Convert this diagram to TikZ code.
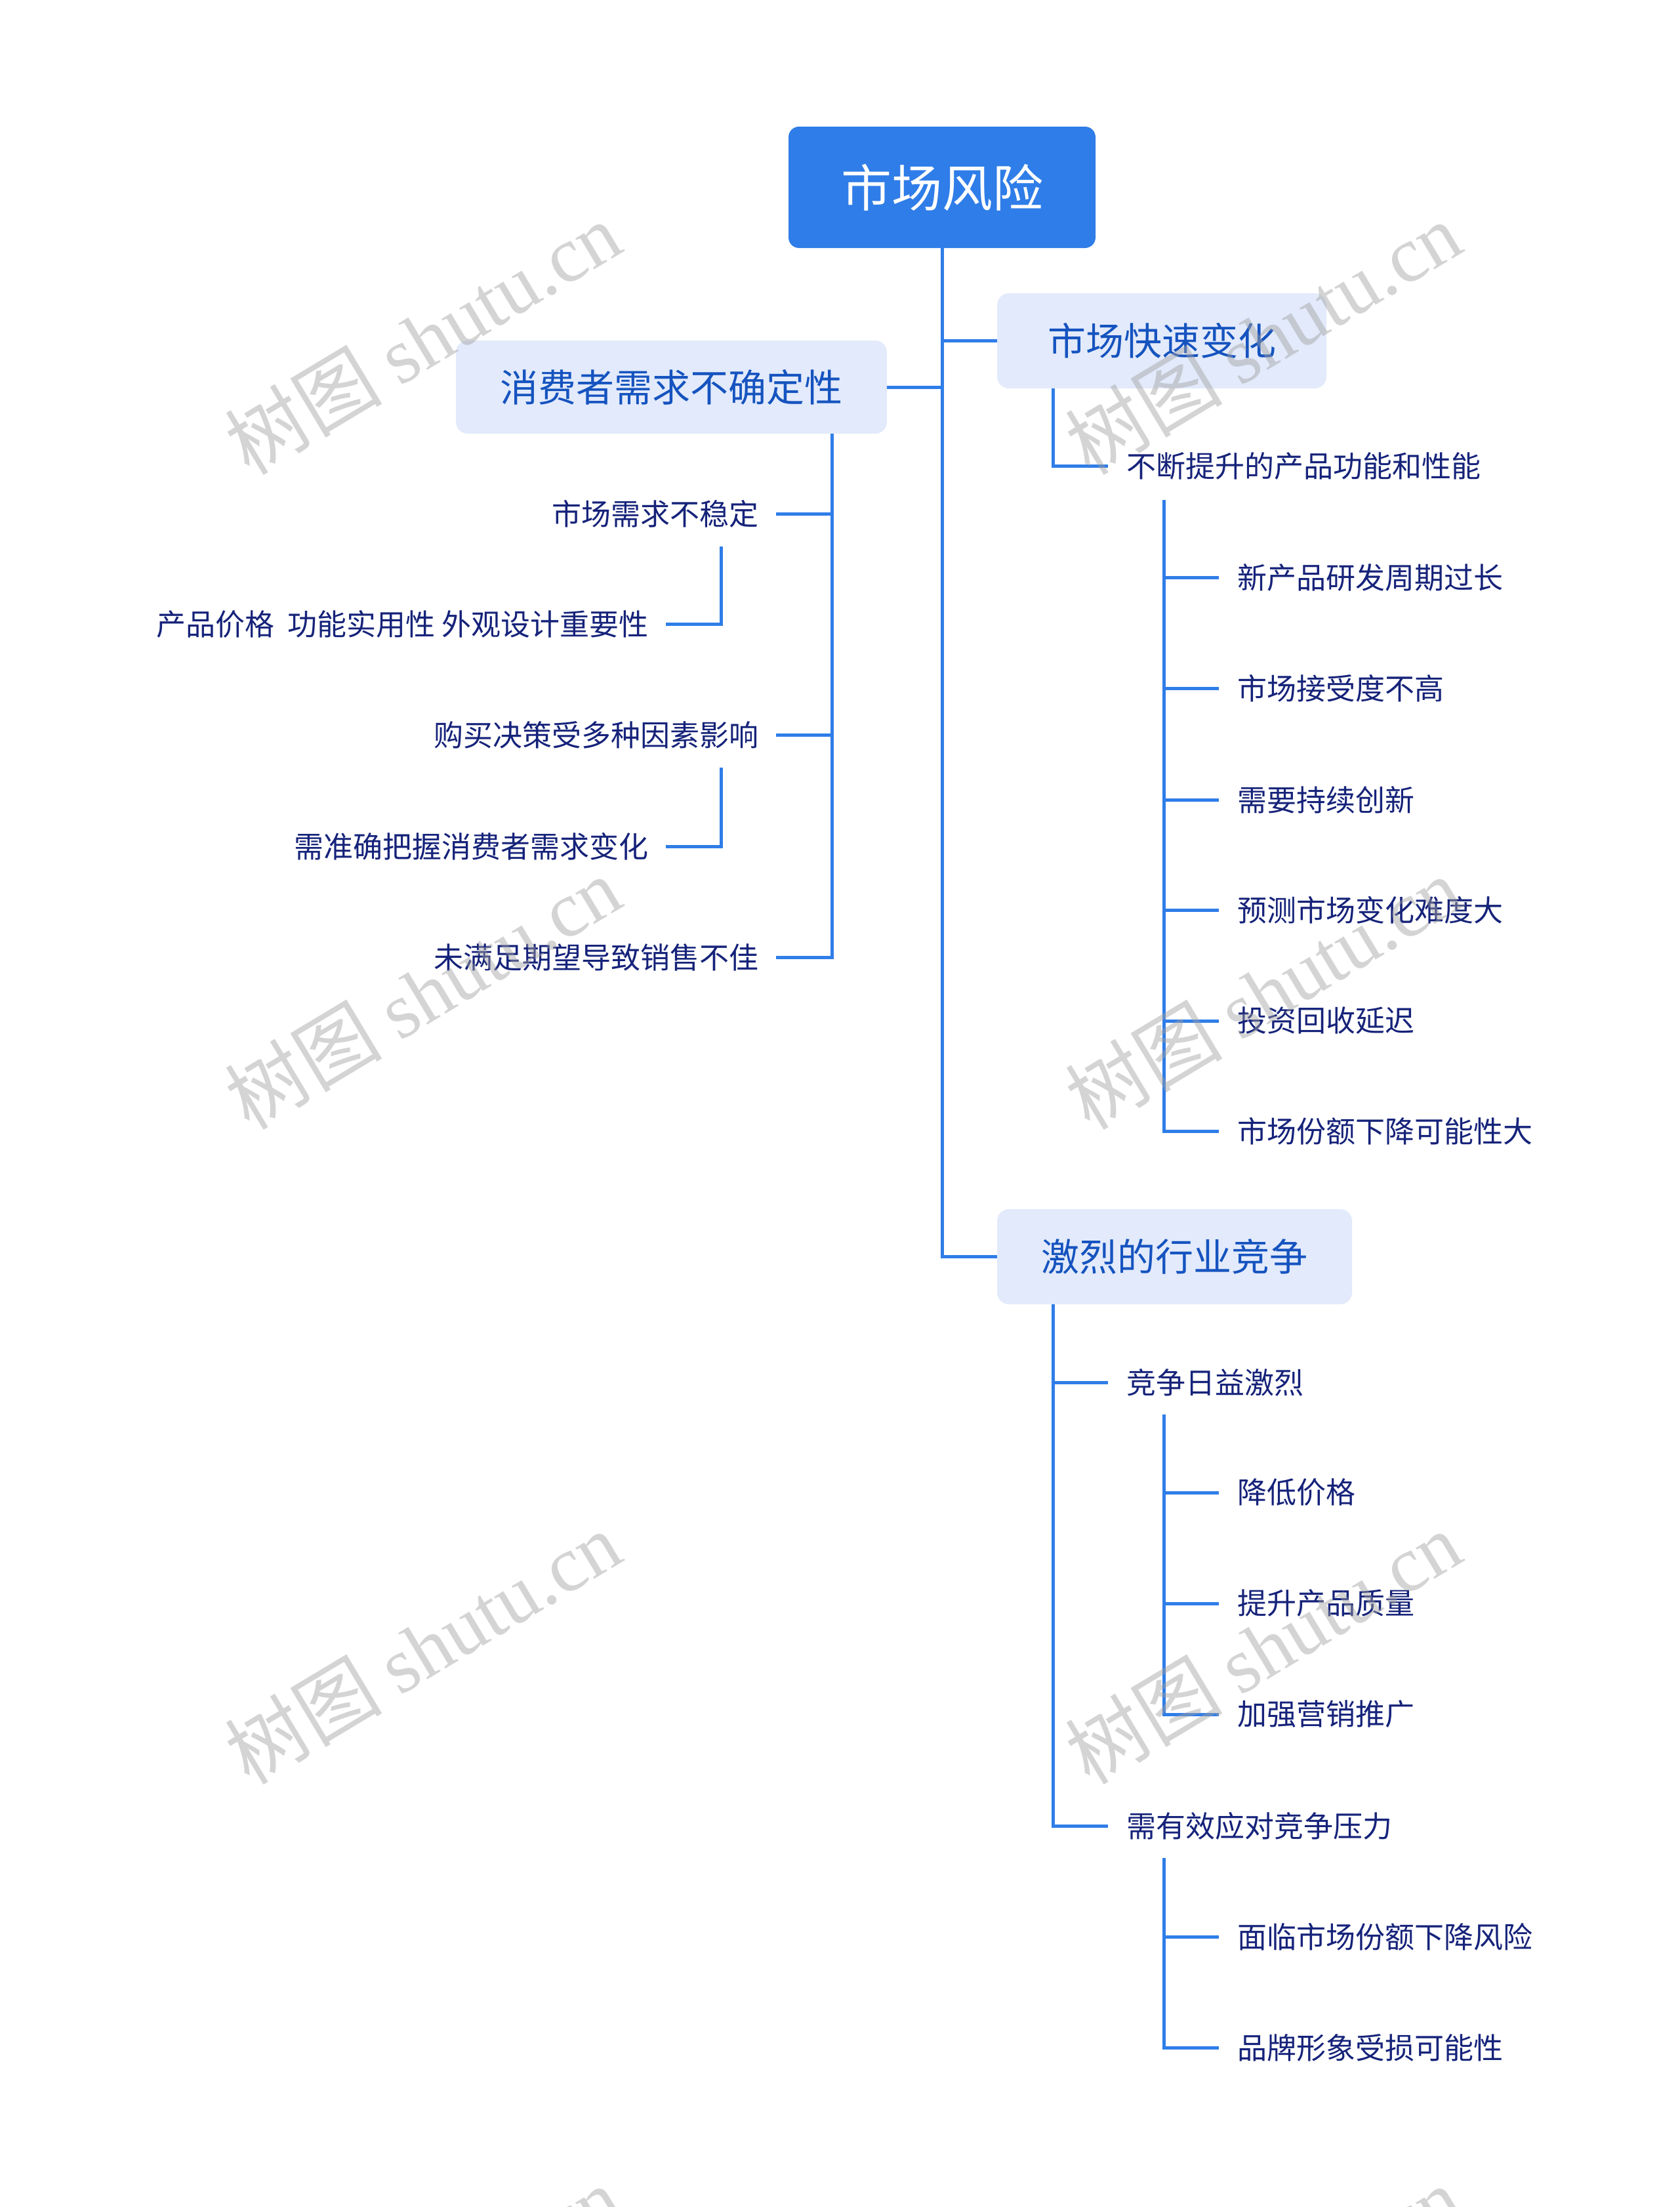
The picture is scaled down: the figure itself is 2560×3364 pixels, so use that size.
\documentclass[tikz,border=0pt]{standalone}
\usepackage{fontspec}
\setmainfont{Noto Sans CJK SC}
\newfontfamily\wmlatin{Liberation Serif}
\definecolor{rootblue}{HTML}{2F7DE8}
\definecolor{linkblue}{HTML}{2F7DE8}
\definecolor{lonefill}{HTML}{E2EAFB}
\definecolor{lonetext}{HTML}{1553BF}
\definecolor{leaftext}{HTML}{16237A}
\definecolor{wmgray}{HTML}{A0A0A0}
\begin{document}
\begin{tikzpicture}[x=1pt,y=-1pt,
  conn/.style={draw=linkblue,line width=5pt},
  rootbox/.style={fill=rootblue,rounded corners=16pt,text=white,font=\fontsize{77}{90}\selectfont,inner sep=0pt},
  lonebox/.style={fill=lonefill,rounded corners=18pt,text=lonetext,font=\fontsize{58}{70}\selectfont,inner sep=0pt},
  leaf/.style={text=leaftext,font=\fontsize{45}{54}\selectfont,inner sep=0pt},
  wm/.style={text=wmgray,opacity=0.45,rotate=31,inner sep=0pt,font=\fontsize{120}{140}\selectfont}]
\useasboundingbox[fill=white] (0,0) rectangle (2560,3364);
\clip (0,0) rectangle (2560,3364);

% main nodes
\node[rootbox,minimum width=468pt,minimum height=185pt] (root) at (1436,285.5) {市场风险};
\node[lonebox,minimum width=502pt,minimum height=145pt] (fast) at (1771,519.5) {市场快速变化};
\node[lonebox,minimum width=657pt,minimum height=142pt] (cons) at (1023.5,590) {消费者需求不确定性};
\node[lonebox,minimum width=541pt,minimum height=145pt] (comp) at (1790.5,1915.5) {激烈的行业竞争};

% right upper branch
\node[leaf,anchor=west] (f1) at (1717,710) {不断提升的产品功能和性能};
\node[leaf,anchor=west] (f11) at (1886,880) {新产品研发周期过长};
\node[leaf,anchor=west] (f12) at (1886,1049) {市场接受度不高};
\node[leaf,anchor=west] (f13) at (1886,1219) {需要持续创新};
\node[leaf,anchor=west] (f14) at (1886,1387) {预测市场变化难度大};
\node[leaf,anchor=west] (f15) at (1886,1556) {投资回收延迟};
\node[leaf,anchor=west] (f16) at (1886,1724) {市场份额下降可能性大};

% left branch
\node[leaf,anchor=east] (c1) at (1157,783) {市场需求不稳定};
\node[leaf,anchor=east] (c11) at (989,951) {产品价格\ \ 功能实用性 外观设计重要性};
\node[leaf,anchor=east] (c2) at (1157,1120) {购买决策受多种因素影响};
\node[leaf,anchor=east] (c21) at (989,1290) {需准确把握消费者需求变化};
\node[leaf,anchor=east] (c3) at (1157,1459) {未满足期望导致销售不佳};

% bottom branch
\node[leaf,anchor=west] (p1) at (1717,2107) {竞争日益激烈};
\node[leaf,anchor=west] (p11) at (1886,2275) {降低价格};
\node[leaf,anchor=west] (p12) at (1886,2444) {提升产品质量};
\node[leaf,anchor=west] (p13) at (1886,2613) {加强营销推广};
\node[leaf,anchor=west] (p2) at (1717,2783) {需有效应对竞争压力};
\node[leaf,anchor=west] (p21) at (1886,2952) {面临市场份额下降风险};
\node[leaf,anchor=west] (p22) at (1886,3121) {品牌形象受损可能性};

% helper coordinates
\coordinate (xa) at (1605,0);
\coordinate (xb) at (1774,0);
\coordinate (xc) at (1268,0);
\coordinate (xd) at (1099,0);
\coordinate (f1d) at (1774,762);
\coordinate (c1d) at (1099,833);
\coordinate (c2d) at (1099,1170);
\coordinate (p1d) at (1774,2156);
\coordinate (p2d) at (1774,2832);

% trunk
\draw[conn] (root.south) -- (root.south |- comp.west) -- (comp.west);
\draw[conn] (root.south |- fast.west) -- (fast.west);
\draw[conn] (root.south |- cons.east) -- (cons.east);

% right upper
\draw[conn] (fast.south -| xa) |- ([xshift=-28pt]f1.west);
\draw[conn] (f1d) |- ([xshift=-28pt]f16.west);
\foreach \n in {f11,f12,f13,f14,f15}{
  \draw[conn] (\n.west -| xb) -- ([xshift=-28pt]\n.west);
}

% left
\draw[conn] (cons.south -| xc) |- ([xshift=26pt]c3.east);
\draw[conn] (c1.east -| xc) -- ([xshift=26pt]c1.east);
\draw[conn] (c2.east -| xc) -- ([xshift=26pt]c2.east);
\draw[conn] (c1d) |- ([xshift=26pt]c11.east);
\draw[conn] (c2d) |- ([xshift=26pt]c21.east);

% bottom
\draw[conn] (comp.south -| xa) |- ([xshift=-28pt]p2.west);
\draw[conn] (p1.west -| xa) -- ([xshift=-28pt]p1.west);
\draw[conn] (p1d) |- ([xshift=-28pt]p13.west);
\draw[conn] (p11.west -| xb) -- ([xshift=-28pt]p11.west);
\draw[conn] (p12.west -| xb) -- ([xshift=-28pt]p12.west);
\draw[conn] (p2d) |- ([xshift=-28pt]p22.west);
\draw[conn] (p21.west -| xb) -- ([xshift=-28pt]p21.west);

% watermarks
\node[wm] (w1) at (644,515) {树图 {\wmlatin shutu.cn}};
\node[wm] (w2) at (1925,515) {树图 {\wmlatin shutu.cn}};
\node[wm] (w3) at (644,1513) {树图 {\wmlatin shutu.cn}};
\node[wm] (w4) at (1925,1513) {树图 {\wmlatin shutu.cn}};
\node[wm] (w5) at (644,2511) {树图 {\wmlatin shutu.cn}};
\node[wm] (w6) at (1925,2511) {树图 {\wmlatin shutu.cn}};
\node[wm] (w7) at (644,3509) {树图 {\wmlatin shutu.cn}};
\node[wm] (w8) at (1925,3509) {树图 {\wmlatin shutu.cn}};
\end{tikzpicture}
\end{document}
